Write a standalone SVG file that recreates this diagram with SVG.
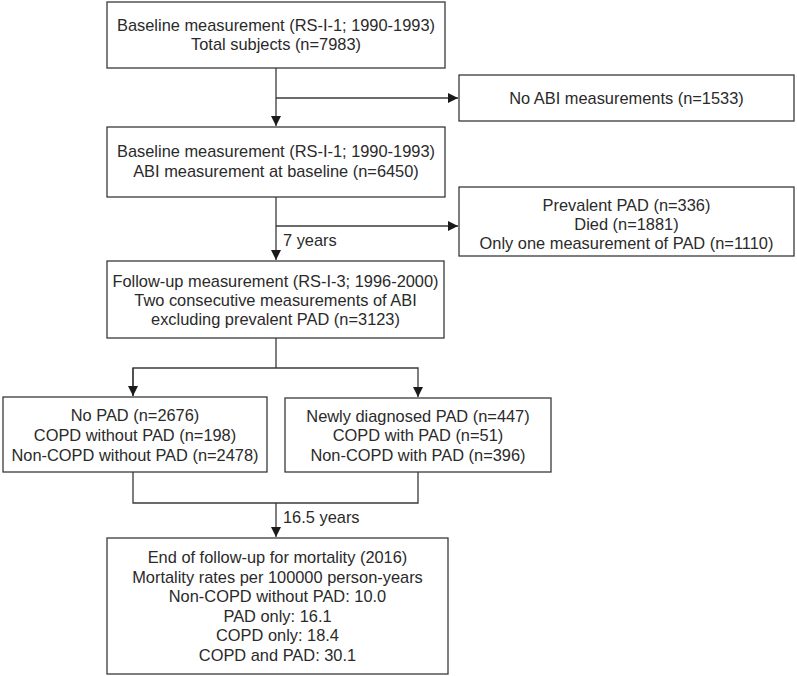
<svg xmlns="http://www.w3.org/2000/svg" width="797" height="676" viewBox="0 0 797 676">
<defs>
<style>
.box{fill:#fff;stroke:#3a3a3a;stroke-width:1.3}
.ln{fill:none;stroke:#3a3a3a;stroke-width:1.3}
text{font-family:"Liberation Sans","DejaVu Sans",sans-serif;font-size:16.4px;fill:#2a2a2a}
.c{text-anchor:middle}
</style>
<marker id="ah" viewBox="0 0 10 10" refX="10" refY="5" markerWidth="10" markerHeight="10" markerUnits="userSpaceOnUse" orient="auto">
<path d="M0,0 L10,5 L0,10 z" fill="#1a1a1a"/>
</marker>
</defs>
<rect width="797" height="676" fill="#fff"/>
<g id="connectors">
<path class="ln" d="M276,68 V126" marker-end="url(#ah)"/>
<path class="ln" d="M276,98 H458" marker-end="url(#ah)"/>
<path class="ln" d="M276,197 V260" marker-end="url(#ah)"/>
<path class="ln" d="M276,226 H458" marker-end="url(#ah)"/>
<path class="ln" d="M276,338 V368"/>
<path class="ln" d="M133,396 V368 H418 V397" marker-end="url(#ah)"/>
<path class="ln" d="M133,368 V396" marker-end="url(#ah)"/>
<path class="ln" d="M133,472 V503 H418 V472"/>
<path class="ln" d="M276,503 V537" marker-end="url(#ah)"/>
<text x="283" y="246">7 years</text>
<text x="283" y="523">16.5 years</text>
</g>
<g id="n1">
<rect class="box" x="107" y="2" width="338" height="66"/>
<text class="c" x="276" y="31">Baseline measurement (RS-I-1; 1990-1993)</text>
<text class="c" x="276" y="50">Total subjects (n=7983)</text>
</g>
<g id="n2">
<rect class="box" x="459" y="75" width="335" height="46"/>
<text class="c" x="626.5" y="104">No ABI measurements (n=1533)</text>
</g>
<g id="n3">
<rect class="box" x="107" y="127" width="338" height="70"/>
<text class="c" x="276" y="157">Baseline measurement (RS-I-1; 1990-1993)</text>
<text class="c" x="276" y="177">ABI measurement at baseline (n=6450)</text>
</g>
<g id="n4">
<rect class="box" x="459" y="187" width="335" height="69"/>
<text class="c" x="626.5" y="211">Prevalent PAD (n=336)</text>
<text class="c" x="626.5" y="230">Died (n=1881)</text>
<text class="c" x="626.5" y="249">Only one measurement of PAD (n=1110)</text>
</g>
<g id="n5">
<rect class="box" x="107" y="261" width="337" height="77"/>
<text class="c" x="275.5" y="287">Follow-up measurement (RS-I-3; 1996-2000)</text>
<text class="c" x="275.5" y="306">Two consecutive measurements of ABI</text>
<text class="c" x="275.5" y="325">excluding prevalent PAD (n=3123)</text>
</g>
<g id="n6">
<rect class="box" x="3" y="397" width="264" height="75"/>
<text class="c" x="135" y="421">No PAD (n=2676)</text>
<text class="c" x="135" y="441">COPD without PAD (n=198)</text>
<text class="c" x="135" y="461">Non-COPD without PAD (n=2478)</text>
</g>
<g id="n7">
<rect class="box" x="285" y="398" width="266" height="74"/>
<text class="c" x="418" y="422">Newly diagnosed PAD (n=447)</text>
<text class="c" x="418" y="441">COPD with PAD (n=51)</text>
<text class="c" x="418" y="461">Non-COPD with PAD (n=396)</text>
</g>
<g id="n8">
<rect class="box" x="107" y="538" width="341" height="136"/>
<text class="c" x="277.5" y="563">End of follow-up for mortality (2016)</text>
<text class="c" x="277.5" y="583">Mortality rates per 100000 person-years</text>
<text class="c" x="277.5" y="602">Non-COPD without PAD: 10.0</text>
<text class="c" x="277.5" y="622">PAD only: 16.1</text>
<text class="c" x="277.5" y="641">COPD only: 18.4</text>
<text class="c" x="277.5" y="661">COPD and PAD: 30.1</text>
</g>
</svg>
